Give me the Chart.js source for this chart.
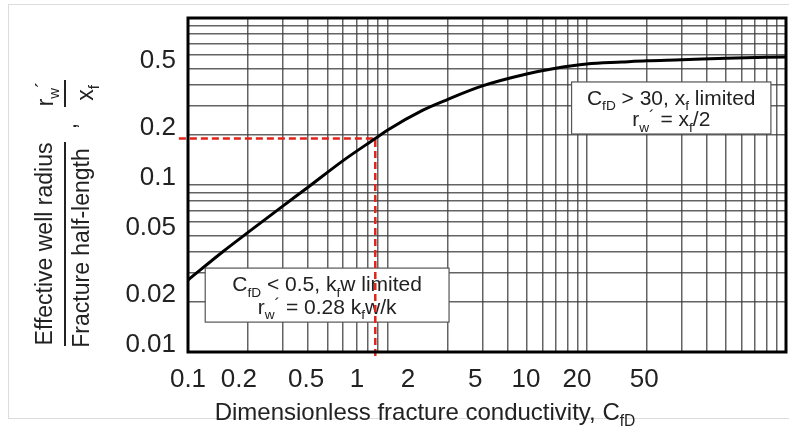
<!DOCTYPE html>
<html>
<head>
<meta charset="utf-8">
<script src="https://cdn.jsdelivr.net/npm/chart.js@4"></script>
<style>
  html, body { margin: 0; padding: 0; background: #fff; }
  #wrap { width: 789px; height: 431px; }
</style>
</head>
<body>
<div id="wrap"><canvas id="chart" width="789" height="431"></canvas></div>
<script>
// curve: dimensionless fracture conductivity vs rw'/xf
const cfd   = [0.1, 0.15, 0.2, 0.3, 0.4, 0.6, 0.87, 1, 1.5, 2, 3, 5, 7, 10, 15, 20, 30, 50, 100];
const rwXf  = [0.027, 0.04, 0.052, 0.075, 0.097, 0.14, 0.19, 0.213, 0.28, 0.325, 0.392, 0.462, 0.50, 0.53, 0.545, 0.555, 0.562, 0.575, 0.584];

// red dashed read-off line
const readX = [0.09, 0.87, 0.87];
const readY = [0.19, 0.19, 0.0092];

const xTickLabels = [0.1, 0.2, 0.5, 1, 2, 5, 10, 20, 50];
const yTickLabels = [0.01, 0.02, 0.05, 0.1, 0.2, 0.5];

const FONT = "'Liberation Sans', Arial, sans-serif";
const GRID = 'rgba(60,60,60,0.8)';

function logTicks(min, max) {
    let out = [];
    for (let e = Math.floor(Math.log10(min)); e <= Math.ceil(Math.log10(max)); e++) {
        for (let m = 1; m <= 9; m++) {
            let v = +(m * Math.pow(10, e)).toPrecision(6);
            if (v >= min - 1e-12 && v <= max + 1e-12) out.push({value: v});
        }
    }
    return out;
}

function isLabel(list, v) {
    return list.find(l => Math.abs(v - l) / l < 1e-6);
}

// text with sub / superscript parts: [text, 'n' | 'sub' | 'sup']
function drawRich(ctx, parts, cx, cy, size) {
    let sz = p => p[1] === 'n' ? size : (p[1] === 'sup' ? size * 0.8 : size * 0.65);
    let widths = parts.map(p => {
        ctx.font = sz(p) + 'px ' + FONT;
        return ctx.measureText(p[0]).width;
    });
    let x = cx - widths.reduce((a, b) => a + b, 0) / 2;
    let base = cy + size * 0.36;
    ctx.textAlign = 'left';
    ctx.textBaseline = 'alphabetic';
    parts.forEach((p, i) => {
        let dy = p[1] === 'sub' ? size * 0.25 : (p[1] === 'sup' ? -size * 0.2 : 0);
        ctx.font = sz(p) + 'px ' + FONT;
        ctx.fillText(p[0], x, base + dy);
        x += widths[i];
    });
}

// note boxes, anchored in data space
const notes = [
    {x1: 8.4, x2: 84, y1: 0.414, y2: 0.202, lines: [
        [['C', 'n'], ['fD', 'sub'], [' > 30, x', 'n'], ['f', 'sub'], [' limited', 'n']],
        [['r', 'n'], ['w', 'sub'], ['\u00b4', 'sup'], [' = x', 'n'], ['f', 'sub'], ['/2', 'n']]
    ]},
    {x1: 0.122, x2: 2.04, y1: 0.0318, y2: 0.0151, lines: [
        [['C', 'n'], ['fD', 'sub'], [' < 0.5, k', 'n'], ['f', 'sub'], ['w limited', 'n']],
        [['r', 'n'], ['w', 'sub'], ['\u00b4', 'sup'], [' = 0.28 k', 'n'], ['f', 'sub'], ['w/k', 'n']]
    ]}
];

const decor = {
    id: 'decor',
    beforeDatasetsDraw(chart) {
        const ctx = chart.ctx, xs = chart.scales.x, ys = chart.scales.y;
        ctx.save();
        for (let n of notes) {
            let l = xs.getPixelForValue(n.x1), r = xs.getPixelForValue(n.x2);
            let t = ys.getPixelForValue(n.y1), b = ys.getPixelForValue(n.y2);
            ctx.fillStyle = '#fff';
            ctx.fillRect(l, t, r - l, b - t);
            ctx.strokeStyle = '#555';
            ctx.lineWidth = 1.2;
            ctx.strokeRect(l, t, r - l, b - t);
            ctx.fillStyle = '#222';
            let h = (b - t);
            drawRich(ctx, n.lines[0], (l + r) / 2, t + h * 0.29, 21);
            drawRich(ctx, n.lines[1], (l + r) / 2, t + h * 0.71, 21);
        }
        ctx.restore();
    },
    afterDraw(chart) {
        const ctx = chart.ctx, a = chart.chartArea;
        ctx.save();
        // faint outer frame
        ctx.strokeStyle = '#dcdcdc';
        ctx.lineWidth = 1;
        ctx.strokeRect(8.5, 4.5, 800, 414);
        // plot border
        ctx.strokeStyle = '#000';
        ctx.lineWidth = 3;
        ctx.strokeRect(a.left, a.top, a.right - a.left, a.bottom - a.top);

        ctx.fillStyle = '#222';
        // x title
        drawRich(ctx, [['Dimensionless fracture conductivity, C', 'n'], ['fD', 'sub']], 425, 411, 24);

        // y title (rotated fractions)
        ctx.translate(64, 244);
        ctx.rotate(-Math.PI / 2);
        ctx.font = '23px ' + FONT;
        ctx.textAlign = 'center';
        ctx.textBaseline = 'middle';
        ctx.fillText('Effective well radius', 0, -18);
        ctx.fillText('Fracture half-length', -4, 19);
        ctx.strokeStyle = '#222';
        ctx.lineWidth = 2;
        ctx.beginPath();
        ctx.moveTo(-102, 1);
        ctx.lineTo(102, 1);
        ctx.moveTo(137, 1);
        ctx.lineTo(164, 1);
        ctx.stroke();
        ctx.textBaseline = 'alphabetic';
        ctx.fillText(',', 118, 12);
        drawRich(ctx, [['r', 'n'], ['w', 'sub'], ['\u00b4', 'sup']], 150, -19, 23);
        drawRich(ctx, [['x', 'n'], ['f', 'sub']], 151, 21, 23);
        ctx.restore();
    }
};

new Chart(document.getElementById('chart'), {
    type: 'line',
    data: {
        datasets: [{
            data: cfd.map((x, i) => ({x: x, y: rwXf[i]})),
            borderColor: '#000',
            borderWidth: 3,
            pointRadius: 0,
            cubicInterpolationMode: 'monotone',
            xAxisID: 'x',
            yAxisID: 'y'
        }, {
            data: readX.map((x, i) => ({x: x, y: readY[i]})),
            borderColor: '#e2231a',
            borderWidth: 2.5,
            borderDash: [7, 4],
            pointRadius: 0,
            clip: false,
            xAxisID: 'x',
            yAxisID: 'y'
        }]
    },
    options: {
        responsive: false,
        animation: false,
        layout: {padding: {top: 18, right: 3, left: 0, bottom: 0}},
        plugins: {legend: {display: false}, tooltip: {enabled: false}},
        scales: {
            x: {
                type: 'logarithmic',
                position: 'bottom',
                min: 0.1,
                max: 100,
                afterBuildTicks: s => { s.ticks = logTicks(0.1, 100); },
                afterFit: s => { s.height = 0; s.paddingLeft = 0; s.paddingRight = 0; },
                ticks: {display: false},
                grid: {color: GRID, lineWidth: 1.5, drawTicks: false},
                border: {display: false}
            },
            xl: {
                type: 'logarithmic',
                position: 'bottom',
                min: 0.1,
                max: 345,
                afterBuildTicks: s => { s.ticks = xTickLabels.map(v => ({value: v})); },
                afterFit: s => { s.height = 79; s.paddingLeft = 0; s.paddingRight = 0; },
                ticks: {
                    autoSkip: false,
                    maxRotation: 0,
                    padding: 12,
                    color: '#222',
                    font: {family: FONT, size: 26},
                    callback: v => String(v)
                },
                grid: {display: false, drawTicks: false},
                border: {display: false}
            },
            y: {
                type: 'logarithmic',
                min: 0.01,
                max: 1,
                afterBuildTicks: s => { s.ticks = logTicks(0.01, 1); },
                afterFit: s => { s.width = 188; s.paddingTop = 0; s.paddingBottom = 0; },
                ticks: {
                    autoSkip: false,
                    padding: 12,
                    labelOffset: -7,
                    color: '#222',
                    font: {family: FONT, size: 26},
                    callback: v => {
                        let l = isLabel(yTickLabels, v);
                        return l ? String(l) : '';
                    }
                },
                grid: {color: GRID, lineWidth: 1.5, drawTicks: false},
                border: {display: false}
            }
        }
    },
    plugins: [decor]
});
</script>
</body>
</html>
